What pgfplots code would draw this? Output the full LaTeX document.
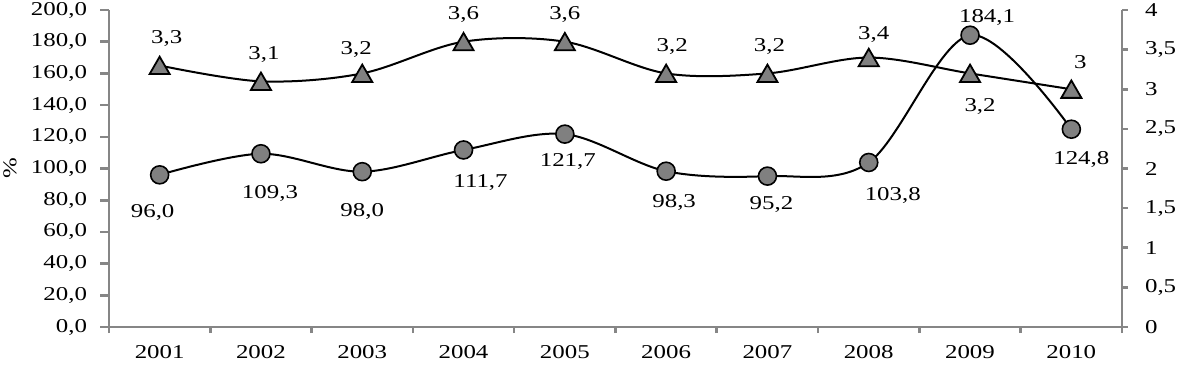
\documentclass[border=0pt]{standalone}
\usepackage{pgfplots}
\pgfplotsset{compat=1.18}
\usepackage{pgfplotstable}
\usepackage{fontspec}
\setmainfont[FakeStretch=1.27]{Liberation Serif}
\definecolor{axgray}{RGB}{134,134,134}
\definecolor{mkgray}{RGB}{128,128,128}

\pgfplotstableread{
x y lab dx dy
2001 96.0 96,0 -3.5 -19
2002 109.3 109,3 4.5 -20
2003 98.0 98,0 0 -20
2004 111.7 111,7 8.5 -16.5
2005 121.7 121,7 1.5 -13.5
2006 98.3 98,3 4 -15.5
2007 95.2 95,2 2 -14
2008 103.8 103,8 12 -16.5
2009 184.1 184,1 8.5 9
2010 124.8 124,8 5 -15
}\circdata

\pgfplotstableread{
x y lab dx dy
2001 3.3 3,3 3.5 15
2002 3.1 3,1 1.5 15
2003 3.2 3,2 -3 13.5
2004 3.6 3,6 0 15
2005 3.6 3,6 0 15
2006 3.2 3,2 3 15
2007 3.2 3,2 1 15
2008 3.4 3,4 2.5 13
2009 3.2 3,2 5 -15
2010 3 3 4.5 15
}\tridata

\begin{document}
\begin{tikzpicture}[font=\fontsize{9.8}{11.8}\selectfont]
\pgfplotsset{
  base/.style={
    scale only axis, width=506.5pt, height=158.5pt,
    xmin=2000.5, xmax=2010.5, clip=false,
    axis line style={draw=axgray, line width=1.3pt, -},
    tick align=outside,
    /pgf/number format/assume math mode=true,
    tick label style={font=\fontsize{9.8}{11.8}\selectfont},
    major tick length=4.5pt,
    every tick/.style={axgray, line width=1.3pt},
    nodes near coords style={font=\fontsize{9.8}{11.8}\selectfont, anchor=center, inner sep=0pt,
      xshift=\dx*1pt, yshift=\dy*1pt, text=black},
  },
}
\begin{axis}[base, name=ax,
  axis x line*=bottom, axis y line*=left,
  ymin=0, ymax=200, ytick={0,20,...,200},
  /pgf/number format/fixed, /pgf/number format/fixed zerofill,
  /pgf/number format/precision=1, /pgf/number format/use comma,
  yticklabel style={xshift=-3pt},
  ylabel={\%}, ylabel style={at={(axis description cs:0,0.5)}, anchor=center, yshift=49.5pt},
  xtick={2001,...,2010},
  xticklabels={2001,2002,2003,2004,2005,2006,2007,2008,2009,2010},
  xticklabel style={yshift=-1pt},
  minor xtick={2000.5,2001.5,...,2010.5},
  major x tick style={draw=none},
  minor x tick style={axgray, line width=1.3pt},
  minor tick length=3pt,
]
\addplot[black, line width=1pt, smooth, tension=0.55,
  mark=*, mark size=4.5pt, mark options={fill=mkgray, draw=black, line width=0.8pt},
  nodes near coords, point meta=explicit symbolic,
  visualization depends on={\thisrow{dx}\as\dx},
  visualization depends on={\thisrow{dy}\as\dy},
] table[x=x, y=y, meta=lab] {\circdata};
\end{axis}
\begin{axis}[base,
  axis x line=none, axis y line*=right,
  ymin=0, ymax=4, ytick={0,0.5,...,4},
  major tick length=3pt,
  /pgf/number format/fixed, /pgf/number format/precision=1, /pgf/number format/use comma,
  yticklabel style={xshift=5pt},
]
\addplot[black, line width=1pt, smooth, tension=0.55,
  mark=triangle*, mark size=5.8pt, mark options={fill=mkgray, draw=black, line width=0.9pt, yshift=-1.4pt},
  nodes near coords, point meta=explicit symbolic,
  visualization depends on={\thisrow{dx}\as\dx},
  visualization depends on={\thisrow{dy}\as\dy},
] table[x=x, y=y, meta=lab] {\tridata};
\end{axis}
\pgfresetboundingbox
\path[use as bounding box] ([shift={(-54.5pt,-19.5pt)}]ax.south west) rectangle ([shift={(27.5pt,5pt)}]ax.north east);
\end{tikzpicture}
\end{document}
